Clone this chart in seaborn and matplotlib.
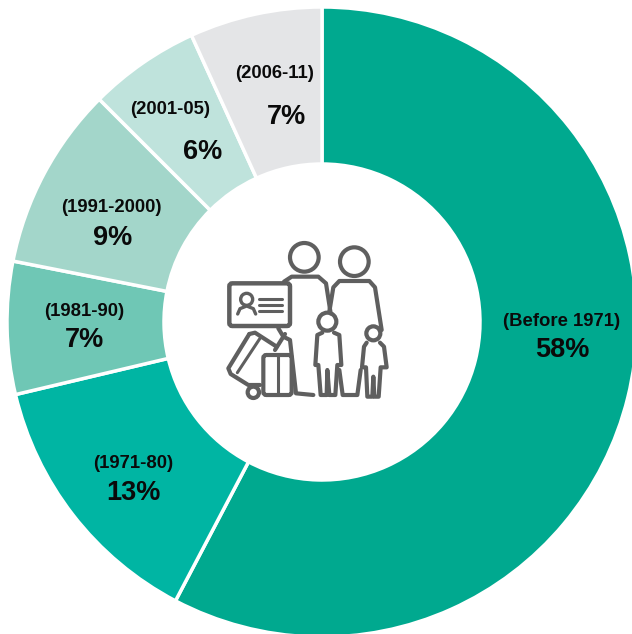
"""
Donut chart of migrants by period of arrival, with a family pictogram in the hole.
"""
import matplotlib
matplotlib.use("Agg")
import matplotlib.pyplot as plt
from matplotlib.patches import Circle, FancyBboxPatch
import seaborn as sns

periods = ["(Before 1971)", "(1971-80)", "(1981-90)", "(1991-2000)", "(2001-05)", "(2006-11)"]
shares = [58, 13, 7, 9, 6, 7]
share_sizes = [57.7, 13.6, 6.8, 9.4, 5.7, 6.8]  # slice sizes as measured, labels are rounded
colors = ["#00A98F", "#00B5A3", "#6FC7B5", "#A3D6CA", "#BFE3DC", "#E4E5E7"]

# label centres in pixels
period_pos = [(562, 321), (133, 464), (84, 312), (111, 208), (170, 109), (275, 73)]
share_pos = [(562, 350), (133, 493), (85, 340), (113, 238), (203, 152), (287, 117)]

ICON = "#5F5F5F"
TEXT = "#0A0A0A"
W, H = 632, 634
CX, CY, R, R_IN = 322, 322, 315, 158

sns.set_theme(style="white")
plt.rcParams["font.family"] = ["Liberation Sans", "DejaVu Sans"]

fig = plt.figure(figsize=(W / 100, H / 100), dpi=100)
ax = fig.add_axes([0, 0, 1, 1])

# y axis is flipped below, so counterclock here runs clockwise on screen
ax.pie(share_sizes, colors=colors, startangle=-90, center=(CX, CY), radius=R,
       counterclock=True, frame=False,
       wedgeprops={"width": R - R_IN, "edgecolor": "white", "linewidth": 2.5})
ax.set_xlim(0, W)
ax.set_ylim(H, 0)
ax.set_aspect("equal")
ax.axis("off")

for period, share, p1, p2 in zip(periods, shares, period_pos, share_pos):
    ax.text(p1[0], p1[1], period, ha="center", va="center", fontsize=13.3, fontweight="bold", color=TEXT)
    ax.text(p2[0], p2[1], f"{share}%", ha="center", va="center", fontsize=19.5, fontweight="bold", color=TEXT)


# ---------------------------------------------------------------
# Pictogram, coordinates traced at 3x from (210, 230)
# ---------------------------------------------------------------
def px(x, y):
    return 210 + x / 3, 230 + y / 3


def stroke(points, lw=3.0):
    pts = [px(*p) for p in points]
    ax.plot([p[0] for p in pts], [p[1] for p in pts], color=ICON, lw=lw,
            solid_joinstyle="round", solid_capstyle="round")


def ring(x, y, r, lw=3.0):
    ax.add_patch(Circle(px(x, y), r / 3, fill=False, edgecolor=ICON, linewidth=lw))


def box(x0, y0, x1, y1, lw=3.0):
    ax.add_patch(FancyBboxPatch(px(x0, y0), (x1 - x0) / 3, (y1 - y0) / 3,
                                boxstyle="round,pad=0,rounding_size=3",
                                fill=False, edgecolor=ICON, linewidth=lw))


# heads
ring(283, 82, 43)
ring(433, 95, 43)
ring(352, 275, 27)
ring(490, 310, 21)

# father
stroke([(222, 155), (245, 140), (325, 140), (348, 160), (362, 250)])
stroke([(205, 295), (220, 320), (240, 330), (258, 490), (310, 495)])
# mother
stroke([(358, 245), (370, 172), (388, 153), (478, 153), (495, 172), (515, 300)])
stroke([(388, 420), (398, 495), (442, 495), (452, 420)])
# older child
stroke([(337, 308), (322, 315), (316, 405), (325, 405), (332, 495), (350, 495), (352, 420),
        (358, 495), (376, 495), (382, 405), (394, 405), (388, 315), (372, 308)])
# younger child
stroke([(470, 338), (462, 350), (456, 412), (468, 412), (472, 500), (487, 500), (490, 440),
        (493, 500), (506, 500), (512, 412), (530, 412), (522, 350), (510, 338)])

# id card
box(58, 160, 240, 288, lw=3.2)
ring(110, 208, 18, lw=2.4)
stroke([(83, 252), (90, 236), (110, 228), (130, 236), (137, 252)], lw=2.4)
for y in [207, 225, 243]:
    stroke([(147, y), (217, y)], lw=2.2)

# luggage
box(160, 375, 245, 495)
stroke([(203, 375), (203, 495)], lw=2.2)
stroke([(195, 360), (225, 312)])
stroke([(118, 312), (135, 308), (200, 350)])
stroke([(118, 312), (55, 415), (62, 432), (115, 465), (150, 465)])
stroke([(82, 428), (150, 325)], lw=2.2)
ring(130, 487, 17)

fig.savefig("out.png", dpi=100)
